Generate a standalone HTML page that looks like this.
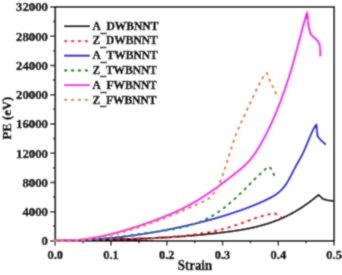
<!DOCTYPE html>
<html><head><meta charset="utf-8"><style>
html,body{margin:0;padding:0;background:#fff;width:342px;height:275px;overflow:hidden}
svg{display:block}

</style></head><body><div id="w">
<svg width="342" height="275" viewBox="0 0 342 275">
<defs><filter id="bl" x="0" y="0" width="342" height="275" filterUnits="userSpaceOnUse"><feConvolveMatrix order="3" kernelMatrix="0.02768 0.11101 0.02768 0.11101 0.44521 0.11101 0.02768 0.11101 0.02768" edgeMode="duplicate" preserveAlpha="true"/></filter></defs>
<g filter="url(#bl)">
<rect width="342" height="275" fill="#fff"/>
<rect x="55.20" y="6.95" width="278.90" height="234.00" fill="none" stroke="#1a1a1a" stroke-width="2"/>
<path d="M55.20,240.95V245.45 M83.09,240.95V243.15 M110.98,240.95V245.45 M138.87,240.95V243.15 M166.76,240.95V245.45 M194.65,240.95V243.15 M222.54,240.95V245.45 M250.43,240.95V243.15 M278.32,240.95V245.45 M306.21,240.95V243.15 M334.10,240.95V245.45 M55.20,240.95H50.20 M55.20,226.32H53.00 M55.20,211.70H50.20 M55.20,197.07H53.00 M55.20,182.45H50.20 M55.20,167.82H53.00 M55.20,153.20H50.20 M55.20,138.57H53.00 M55.20,123.95H50.20 M55.20,109.32H53.00 M55.20,94.70H50.20 M55.20,80.07H53.00 M55.20,65.45H50.20 M55.20,50.82H53.00 M55.20,36.20H50.20 M55.20,21.57H53.00 M55.20,6.95H50.20" stroke="#1a1a1a" stroke-width="1.5" fill="none"/>
<path d="M54.50,240.70 L55.00,240.88 L55.50,240.86 L56.00,240.85 L56.50,240.84 L57.00,240.82 L57.49,240.81 L57.99,240.80 L58.49,240.79 L58.99,240.77 L59.49,240.76 L59.99,240.75 L60.49,240.74 L60.99,240.73 L61.49,240.71 L61.99,240.70 L62.48,240.69 L62.98,240.68 L63.48,240.67 L63.98,240.65 L64.48,240.64 L64.98,240.63 L65.48,240.62 L65.98,240.61 L66.48,240.60 L66.98,240.59 L67.48,240.57 L67.97,240.56 L68.47,240.55 L68.97,240.54 L69.47,240.53 L69.97,240.52 L70.47,240.51 L70.97,240.49 L71.47,240.48 L71.97,240.47 L72.47,240.46 L72.97,240.45 L73.46,240.44 L73.96,240.43 L74.46,240.42 L74.96,240.41 L75.46,240.39 L75.96,240.38 L76.46,240.37 L76.96,240.36 L77.46,240.35 L77.96,240.34 L78.45,240.33 L78.95,240.32 L79.45,240.31 L79.95,240.30 L80.45,240.28 L80.95,240.27 L81.45,240.26 L81.95,240.25 L82.45,240.24 L82.95,240.23 L83.45,240.22 L83.94,240.21 L84.44,240.20 L84.94,240.19 L85.44,240.18 L85.94,240.16 L86.44,240.15 L86.94,240.14 L87.44,240.13 L87.94,240.12 L88.44,240.11 L88.93,240.10 L89.43,240.09 L89.93,240.08 L90.43,240.06 L90.93,240.05 L91.43,240.04 L91.93,240.03 L92.43,240.02 L92.93,240.01 L93.43,240.00 L93.93,239.99 L94.42,239.98 L94.92,239.96 L95.42,239.95 L95.92,239.94 L96.42,239.93 L96.92,239.92 L97.42,239.91 L97.92,239.89 L98.42,239.88 L98.92,239.87 L99.42,239.86 L99.91,239.85 L100.41,239.84 L100.91,239.82 L101.41,239.81 L101.91,239.80 L102.41,239.79 L102.91,239.78 L103.41,239.76 L103.91,239.75 L104.41,239.74 L104.90,239.73 L105.40,239.72 L105.90,239.70 L106.40,239.69 L106.90,239.68 L107.40,239.67 L107.90,239.65 L108.40,239.64 L108.90,239.63 L109.40,239.62 L109.90,239.60 L110.39,239.59 L110.89,239.58 L111.39,239.56 L111.89,239.55 L112.39,239.54 L112.89,239.52 L113.39,239.51 L113.89,239.50 L114.39,239.48 L114.89,239.47 L115.38,239.46 L115.88,239.44 L116.38,239.43 L116.88,239.41 L117.38,239.40 L117.88,239.39 L118.38,239.37 L118.88,239.36 L119.38,239.34 L119.88,239.33 L120.38,239.31 L120.87,239.30 L121.37,239.28 L121.87,239.27 L122.37,239.25 L122.87,239.24 L123.37,239.22 L123.87,239.21 L124.37,239.19 L124.87,239.18 L125.37,239.16 L125.87,239.15 L126.36,239.13 L126.86,239.11 L127.36,239.10 L127.86,239.08 L128.36,239.07 L128.86,239.05 L129.36,239.03 L129.86,239.02 L130.36,239.00 L130.86,238.98 L131.35,238.96 L131.85,238.95 L132.35,238.93 L132.85,238.91 L133.35,238.90 L133.85,238.88 L134.35,238.86 L134.85,238.84 L135.35,238.82 L135.85,238.81 L136.35,238.79 L136.84,238.77 L137.34,238.75 L137.84,238.73 L138.34,238.71 L138.84,238.69 L139.34,238.67 L139.84,238.65 L140.34,238.64 L140.84,238.62 L141.34,238.60 L141.83,238.58 L142.33,238.56 L142.83,238.54 L143.33,238.52 L143.83,238.49 L144.33,238.47 L144.83,238.45 L145.33,238.43 L145.83,238.41 L146.33,238.39 L146.83,238.37 L147.32,238.35 L147.82,238.32 L148.32,238.30 L148.82,238.28 L149.32,238.26 L149.82,238.24 L150.32,238.21 L150.82,238.19 L151.32,238.17 L151.82,238.14 L152.32,238.12 L152.81,238.10 L153.31,238.07 L153.81,238.05 L154.31,238.02 L154.81,238.00 L155.31,237.98 L155.81,237.95 L156.31,237.93 L156.81,237.90 L157.31,237.88 L157.80,237.85 L158.30,237.83 L158.80,237.80 L159.30,237.77 L159.80,237.75 L160.30,237.72 L160.80,237.69 L161.30,237.67 L161.80,237.64 L162.30,237.61 L162.80,237.59 L163.29,237.56 L163.79,237.53 L164.29,237.50 L164.79,237.47 L165.29,237.45 L165.79,237.42 L166.29,237.39 L166.79,237.36 L167.29,237.33 L167.79,237.30 L168.28,237.27 L168.78,237.24 L169.28,237.21 L169.78,237.18 L170.28,237.15 L170.78,237.12 L171.28,237.09 L171.78,237.06 L172.28,237.02 L172.78,236.99 L173.28,236.96 L173.77,236.93 L174.27,236.90 L174.77,236.86 L175.27,236.83 L175.77,236.80 L176.27,236.76 L176.77,236.73 L177.27,236.70 L177.77,236.66 L178.27,236.63 L178.77,236.59 L179.26,236.56 L179.76,236.52 L180.26,236.49 L180.76,236.45 L181.26,236.42 L181.76,236.38 L182.26,236.35 L182.76,236.31 L183.26,236.27 L183.76,236.23 L184.25,236.20 L184.75,236.16 L185.25,236.12 L185.75,236.08 L186.25,236.05 L186.75,236.01 L187.25,235.97 L187.75,235.93 L188.25,235.89 L188.75,235.85 L189.25,235.81 L189.74,235.77 L190.24,235.73 L190.74,235.69 L191.24,235.65 L191.74,235.61 L192.24,235.56 L192.74,235.52 L193.24,235.48 L193.74,235.44 L194.24,235.39 L194.73,235.35 L195.23,235.31 L195.73,235.26 L196.23,235.22 L196.73,235.18 L197.23,235.13 L197.73,235.09 L198.23,235.04 L198.73,235.00 L199.23,234.95 L199.73,234.91 L200.22,234.86 L200.72,234.81 L201.22,234.77 L201.72,234.72 L202.22,234.67 L202.72,234.62 L203.22,234.58 L203.72,234.53 L204.22,234.48 L204.72,234.43 L205.22,234.38 L205.71,234.33 L206.21,234.28 L206.71,234.23 L207.21,234.18 L207.71,234.13 L208.21,234.08 L208.71,234.03 L209.21,233.97 L209.71,233.92 L210.21,233.87 L210.70,233.82 L211.20,233.76 L211.70,233.71 L212.20,233.66 L212.70,233.60 L213.20,233.55 L213.70,233.49 L214.20,233.44 L214.70,233.38 L215.20,233.33 L215.70,233.27 L216.19,233.21 L216.69,233.16 L217.19,233.10 L217.69,233.04 L218.19,232.99 L218.69,232.93 L219.19,232.87 L219.69,232.81 L220.19,232.75 L220.69,232.69 L221.18,232.63 L221.68,232.57 L222.18,232.51 L222.68,232.45 L223.18,232.39 L223.68,232.33 L224.18,232.27 L224.68,232.20 L225.18,232.14 L225.68,232.08 L226.18,232.01 L226.67,231.95 L227.17,231.89 L227.67,231.82 L228.17,231.76 L228.67,231.69 L229.17,231.62 L229.67,231.56 L230.17,231.49 L230.67,231.42 L231.17,231.35 L231.67,231.28 L232.16,231.21 L232.66,231.14 L233.16,231.07 L233.66,231.00 L234.16,230.93 L234.66,230.86 L235.16,230.78 L235.66,230.71 L236.16,230.63 L236.66,230.56 L237.15,230.48 L237.65,230.41 L238.15,230.33 L238.65,230.25 L239.15,230.17 L239.65,230.09 L240.15,230.01 L240.65,229.92 L241.15,229.84 L241.65,229.76 L242.15,229.67 L242.64,229.58 L243.14,229.50 L243.64,229.41 L244.14,229.32 L244.64,229.23 L245.14,229.14 L245.64,229.05 L246.14,228.95 L246.64,228.86 L247.14,228.76 L247.63,228.67 L248.13,228.57 L248.63,228.47 L249.13,228.37 L249.63,228.27 L250.13,228.16 L250.63,228.06 L251.13,227.95 L251.63,227.85 L252.13,227.74 L252.63,227.63 L253.12,227.52 L253.62,227.41 L254.12,227.29 L254.62,227.18 L255.12,227.06 L255.62,226.94 L256.12,226.82 L256.62,226.70 L257.12,226.58 L257.62,226.46 L258.12,226.33 L258.61,226.20 L259.11,226.08 L259.61,225.95 L260.11,225.81 L260.61,225.68 L261.11,225.55 L261.61,225.41 L262.11,225.27 L262.61,225.13 L263.11,224.99 L263.60,224.85 L264.10,224.70 L264.60,224.56 L265.10,224.41 L265.60,224.26 L266.10,224.11 L266.60,223.95 L267.10,223.80 L267.60,223.64 L268.10,223.48 L268.60,223.32 L269.09,223.15 L269.59,222.99 L270.09,222.82 L270.59,222.65 L271.09,222.48 L271.59,222.31 L272.09,222.13 L272.59,221.95 L273.09,221.78 L273.59,221.59 L274.08,221.41 L274.58,221.22 L275.08,221.04 L275.58,220.85 L276.08,220.66 L276.58,220.46 L277.08,220.26 L277.58,220.07 L278.08,219.86 L278.58,219.66 L279.08,219.46 L279.57,219.25 L280.07,219.04 L280.57,218.83 L281.07,218.61 L281.57,218.39 L282.07,218.17 L282.57,217.95 L283.07,217.73 L283.57,217.50 L284.07,217.27 L284.57,217.04 L285.06,216.81 L285.56,216.57 L286.06,216.33 L286.56,216.09 L287.06,215.84 L287.56,215.60 L288.06,215.35 L288.56,215.10 L289.06,214.84 L289.56,214.58 L290.05,214.32 L290.55,214.06 L291.05,213.80 L291.55,213.53 L292.05,213.26 L292.55,212.98 L293.05,212.71 L293.55,212.43 L294.05,212.15 L294.55,211.86 L295.05,211.58 L295.54,211.29 L296.04,210.99 L296.54,210.70 L297.04,210.40 L297.54,210.10 L298.04,209.80 L298.54,209.49 L299.04,209.18 L299.54,208.87 L300.04,208.55 L300.53,208.24 L301.03,207.92 L301.53,207.59 L302.03,207.27 L302.53,206.94 L303.03,206.61 L303.53,206.27 L304.03,205.93 L304.53,205.59 L305.03,205.25 L305.53,204.91 L306.02,204.56 L306.52,204.21 L307.02,203.85 L307.52,203.49 L308.02,203.13 L308.52,202.77 L309.02,202.40 L309.52,202.04 L310.02,201.66 L310.52,201.29 L311.02,200.91 L311.51,200.53 L312.01,200.15 L312.51,199.76 L313.01,199.37 L313.51,198.98 L314.01,198.58 L314.51,198.19 L315.01,197.78 L315.51,197.38 L316.01,196.97 L316.50,196.56 L317.00,196.15 L317.50,195.73 L318.00,195.32 L318.50,194.89 L319.00,195.30 L322.90,198.90 L327.50,200.20 L333.20,201.00" fill="none" stroke="#111" stroke-width="2.10" stroke-linejoin="round"/>
<path d="M54.50,240.70 L55.00,240.98 L55.50,240.96 L56.00,240.93 L56.50,240.90 L57.00,240.87 L57.50,240.85 L58.00,240.82 L58.50,240.80 L59.00,240.77 L59.50,240.74 L60.00,240.72 L60.49,240.70 L60.99,240.67 L61.49,240.65 L61.99,240.62 L62.49,240.60 L62.99,240.58 L63.49,240.56 L63.99,240.53 L64.49,240.51 L64.99,240.49 L65.49,240.47 L65.99,240.45 L66.49,240.43 L66.99,240.41 L67.49,240.39 L67.99,240.37 L68.49,240.35 L68.99,240.33 L69.49,240.31 L69.99,240.29 L70.49,240.28 L70.99,240.26 L71.48,240.24 L71.98,240.22 L72.48,240.21 L72.98,240.19 L73.48,240.17 L73.98,240.16 L74.48,240.14 L74.98,240.12 L75.48,240.11 L75.98,240.09 L76.48,240.08 L76.98,240.06 L77.48,240.05 L77.98,240.03 L78.48,240.02 L78.98,240.01 L79.48,239.99 L79.98,239.98 L80.48,239.97 L80.98,239.95 L81.48,239.94 L81.98,239.93 L82.47,239.91 L82.97,239.90 L83.47,239.89 L83.97,239.88 L84.47,239.86 L84.97,239.85 L85.47,239.84 L85.97,239.83 L86.47,239.82 L86.97,239.81 L87.47,239.80 L87.97,239.79 L88.47,239.77 L88.97,239.76 L89.47,239.75 L89.97,239.74 L90.47,239.73 L90.97,239.72 L91.47,239.71 L91.97,239.70 L92.47,239.69 L92.97,239.68 L93.46,239.67 L93.96,239.66 L94.46,239.65 L94.96,239.65 L95.46,239.64 L95.96,239.63 L96.46,239.62 L96.96,239.61 L97.46,239.60 L97.96,239.59 L98.46,239.58 L98.96,239.57 L99.46,239.56 L99.96,239.56 L100.46,239.55 L100.96,239.54 L101.46,239.53 L101.96,239.52 L102.46,239.51 L102.96,239.50 L103.46,239.50 L103.96,239.49 L104.45,239.48 L104.95,239.47 L105.45,239.46 L105.95,239.45 L106.45,239.45 L106.95,239.44 L107.45,239.43 L107.95,239.42 L108.45,239.41 L108.95,239.40 L109.45,239.40 L109.95,239.39 L110.45,239.38 L110.95,239.37 L111.45,239.36 L111.95,239.35 L112.45,239.34 L112.95,239.34 L113.45,239.33 L113.95,239.32 L114.45,239.31 L114.95,239.30 L115.44,239.29 L115.94,239.28 L116.44,239.27 L116.94,239.26 L117.44,239.25 L117.94,239.24 L118.44,239.23 L118.94,239.22 L119.44,239.22 L119.94,239.21 L120.44,239.20 L120.94,239.19 L121.44,239.18 L121.94,239.16 L122.44,239.15 L122.94,239.14 L123.44,239.13 L123.94,239.12 L124.44,239.11 L124.94,239.10 L125.44,239.09 L125.94,239.08 L126.43,239.07 L126.93,239.05 L127.43,239.04 L127.93,239.03 L128.43,239.02 L128.93,239.01 L129.43,238.99 L129.93,238.98 L130.43,238.97 L130.93,238.95 L131.43,238.94 L131.93,238.93 L132.43,238.91 L132.93,238.90 L133.43,238.89 L133.93,238.87 L134.43,238.86 L134.93,238.84 L135.43,238.83 L135.93,238.81 L136.43,238.80 L136.93,238.78 L137.42,238.77 L137.92,238.75 L138.42,238.73 L138.92,238.72 L139.42,238.70 L139.92,238.68 L140.42,238.67 L140.92,238.65 L141.42,238.63 L141.92,238.61 L142.42,238.59 L142.92,238.57 L143.42,238.56 L143.92,238.54 L144.42,238.52 L144.92,238.50 L145.42,238.48 L145.92,238.46 L146.42,238.43 L146.92,238.41 L147.42,238.39 L147.92,238.37 L148.41,238.35 L148.91,238.33 L149.41,238.30 L149.91,238.28 L150.41,238.26 L150.91,238.23 L151.41,238.21 L151.91,238.18 L152.41,238.16 L152.91,238.13 L153.41,238.11 L153.91,238.08 L154.41,238.06 L154.91,238.03 L155.41,238.00 L155.91,237.98 L156.41,237.95 L156.91,237.92 L157.41,237.89 L157.91,237.86 L158.41,237.83 L158.91,237.80 L159.40,237.77 L159.90,237.74 L160.40,237.71 L160.90,237.68 L161.40,237.65 L161.90,237.62 L162.40,237.58 L162.90,237.55 L163.40,237.52 L163.90,237.48 L164.40,237.45 L164.90,237.41 L165.40,237.38 L165.90,237.34 L166.40,237.31 L166.90,237.27 L167.40,237.23 L167.90,237.19 L168.40,237.16 L168.90,237.12 L169.40,237.08 L169.90,237.04 L170.39,237.00 L170.89,236.96 L171.39,236.92 L171.89,236.88 L172.39,236.83 L172.89,236.79 L173.39,236.75 L173.89,236.70 L174.39,236.66 L174.89,236.62 L175.39,236.57 L175.89,236.53 L176.39,236.48 L176.89,236.43 L177.39,236.38 L177.89,236.34 L178.39,236.29 L178.89,236.24 L179.39,236.19 L179.89,236.14 L180.39,236.09 L180.89,236.04 L181.38,235.99 L181.88,235.93 L182.38,235.88 L182.88,235.83 L183.38,235.77 L183.88,235.72 L184.38,235.66 L184.88,235.61 L185.38,235.55 L185.88,235.49 L186.38,235.44 L186.88,235.38 L187.38,235.32 L187.88,235.26 L188.38,235.20 L188.88,235.14 L189.38,235.08 L189.88,235.01 L190.38,234.95 L190.88,234.89 L191.38,234.82 L191.88,234.76 L192.37,234.69 L192.87,234.63 L193.37,234.56 L193.87,234.49 L194.37,234.42 L194.87,234.36 L195.37,234.29 L195.87,234.22 L196.37,234.14 L196.87,234.07 L197.37,234.00 L197.87,233.93 L198.37,233.85 L198.87,233.78 L199.37,233.71 L199.87,233.63 L200.37,233.55 L200.87,233.48 L201.37,233.40 L201.87,233.32 L202.37,233.24 L202.87,233.16 L203.36,233.08 L203.86,233.00 L204.36,232.91 L204.86,232.83 L205.36,232.74 L205.86,232.66 L206.36,232.57 L206.86,232.48 L207.36,232.40 L207.86,232.31 L208.36,232.22 L208.86,232.12 L209.36,232.03 L209.86,231.94 L210.36,231.84 L210.86,231.75 L211.36,231.65 L211.86,231.55 L212.36,231.45 L212.86,231.35 L213.36,231.25 L213.86,231.15 L214.35,231.04 L214.85,230.94 L215.35,230.83 L215.85,230.72 L216.35,230.61 L216.85,230.50 L217.35,230.39 L217.85,230.28 L218.35,230.16 L218.85,230.05 L219.35,229.93 L219.85,229.81 L220.35,229.69 L220.85,229.57 L221.35,229.44 L221.85,229.32 L222.35,229.19 L222.85,229.06 L223.35,228.94 L223.85,228.80 L224.35,228.67 L224.85,228.54 L225.34,228.40 L225.84,228.26 L226.34,228.12 L226.84,227.98 L227.34,227.84 L227.84,227.69 L228.34,227.55 L228.84,227.40 L229.34,227.25 L229.84,227.10 L230.34,226.94 L230.84,226.79 L231.34,226.63 L231.84,226.47 L232.34,226.31 L232.84,226.15 L233.34,225.99 L233.84,225.83 L234.34,225.66 L234.84,225.50 L235.34,225.33 L235.84,225.16 L236.33,224.99 L236.83,224.82 L237.33,224.65 L237.83,224.47 L238.33,224.30 L238.83,224.12 L239.33,223.95 L239.83,223.77 L240.33,223.59 L240.83,223.42 L241.33,223.24 L241.83,223.06 L242.33,222.88 L242.83,222.70 L243.33,222.51 L243.83,222.33 L244.33,222.15 L244.83,221.97 L245.33,221.79 L245.83,221.60 L246.33,221.42 L246.83,221.24 L247.32,221.06 L247.82,220.88 L248.32,220.69 L248.82,220.51 L249.32,220.33 L249.82,220.15 L250.32,219.97 L250.82,219.79 L251.32,219.61 L251.82,219.43 L252.32,219.25 L252.82,219.08 L253.32,218.90 L253.82,218.73 L254.32,218.55 L254.82,218.38 L255.32,218.21 L255.82,218.04 L256.32,217.87 L256.82,217.71 L257.32,217.54 L257.82,217.38 L258.31,217.21 L258.81,217.05 L259.31,216.89 L259.81,216.74 L260.31,216.58 L260.81,216.43 L261.31,216.28 L261.81,216.13 L262.31,215.98 L262.81,215.84 L263.31,215.70 L263.81,215.56 L264.31,215.42 L264.81,215.29 L265.31,215.15 L265.81,215.02 L266.31,214.90 L266.81,214.77 L267.31,214.65 L267.81,214.54 L268.31,214.42 L268.81,214.31 L269.30,214.20 L269.80,214.10 L270.30,214.00 L270.80,213.90 L271.30,213.80 L271.80,213.71 L272.30,213.62 L272.80,213.54 L273.30,213.46 L273.80,213.38 L274.30,213.31 L274.80,213.30 L281.20,217.20" fill="none" stroke="#ff1010" stroke-width="2.30" stroke-linejoin="round" stroke-dasharray="1.4 5.6" stroke-linecap="round"/>
<path d="M54.50,240.70 L55.00,240.74 L55.50,240.74 L56.00,240.74 L56.50,240.74 L57.00,240.74 L57.50,240.73 L58.00,240.73 L58.50,240.73 L59.00,240.73 L59.50,240.72 L60.00,240.72 L60.50,240.72 L61.00,240.71 L61.50,240.71 L62.00,240.70 L62.50,240.70 L63.00,240.69 L63.50,240.68 L64.00,240.68 L64.50,240.67 L65.00,240.66 L65.50,240.65 L66.00,240.64 L66.50,240.63 L67.00,240.62 L67.50,240.61 L67.99,240.60 L68.49,240.59 L68.99,240.58 L69.49,240.57 L69.99,240.56 L70.49,240.54 L70.99,240.53 L71.49,240.52 L71.99,240.50 L72.49,240.49 L72.99,240.47 L73.49,240.46 L73.99,240.44 L74.49,240.42 L74.99,240.41 L75.49,240.39 L75.99,240.37 L76.49,240.35 L76.99,240.34 L77.49,240.32 L77.99,240.30 L78.49,240.28 L78.99,240.26 L79.49,240.24 L79.99,240.21 L80.49,240.19 L80.99,240.17 L81.49,240.15 L81.99,240.12 L82.49,240.10 L82.99,240.08 L83.49,240.05 L83.99,240.03 L84.49,240.00 L84.99,239.98 L85.49,239.95 L85.99,239.92 L86.49,239.90 L86.99,239.87 L87.49,239.84 L87.99,239.81 L88.49,239.78 L88.99,239.75 L89.49,239.72 L89.99,239.69 L90.49,239.66 L90.99,239.63 L91.49,239.60 L91.99,239.57 L92.49,239.54 L92.99,239.50 L93.49,239.47 L93.98,239.44 L94.48,239.40 L94.98,239.37 L95.48,239.33 L95.98,239.30 L96.48,239.26 L96.98,239.22 L97.48,239.19 L97.98,239.15 L98.48,239.11 L98.98,239.07 L99.48,239.04 L99.98,239.00 L100.48,238.96 L100.98,238.92 L101.48,238.88 L101.98,238.84 L102.48,238.79 L102.98,238.75 L103.48,238.71 L103.98,238.67 L104.48,238.62 L104.98,238.58 L105.48,238.54 L105.98,238.49 L106.48,238.45 L106.98,238.40 L107.48,238.36 L107.98,238.31 L108.48,238.26 L108.98,238.22 L109.48,238.17 L109.98,238.12 L110.48,238.07 L110.98,238.03 L111.48,237.98 L111.98,237.93 L112.48,237.88 L112.98,237.83 L113.48,237.77 L113.98,237.72 L114.48,237.67 L114.98,237.62 L115.48,237.57 L115.98,237.51 L116.48,237.46 L116.98,237.41 L117.48,237.35 L117.98,237.30 L118.48,237.24 L118.98,237.19 L119.48,237.13 L119.97,237.07 L120.47,237.02 L120.97,236.96 L121.47,236.90 L121.97,236.84 L122.47,236.78 L122.97,236.72 L123.47,236.66 L123.97,236.60 L124.47,236.54 L124.97,236.48 L125.47,236.42 L125.97,236.36 L126.47,236.30 L126.97,236.23 L127.47,236.17 L127.97,236.11 L128.47,236.04 L128.97,235.98 L129.47,235.91 L129.97,235.85 L130.47,235.78 L130.97,235.72 L131.47,235.65 L131.97,235.58 L132.47,235.51 L132.97,235.45 L133.47,235.38 L133.97,235.31 L134.47,235.24 L134.97,235.17 L135.47,235.10 L135.97,235.03 L136.47,234.96 L136.97,234.89 L137.47,234.81 L137.97,234.74 L138.47,234.67 L138.97,234.60 L139.47,234.52 L139.97,234.45 L140.47,234.37 L140.97,234.30 L141.47,234.22 L141.97,234.15 L142.47,234.07 L142.97,233.99 L143.47,233.92 L143.97,233.84 L144.47,233.76 L144.97,233.68 L145.47,233.60 L145.97,233.52 L146.46,233.45 L146.96,233.36 L147.46,233.28 L147.96,233.20 L148.46,233.12 L148.96,233.04 L149.46,232.96 L149.96,232.87 L150.46,232.79 L150.96,232.71 L151.46,232.62 L151.96,232.54 L152.46,232.45 L152.96,232.37 L153.46,232.28 L153.96,232.20 L154.46,232.11 L154.96,232.02 L155.46,231.94 L155.96,231.85 L156.46,231.76 L156.96,231.67 L157.46,231.58 L157.96,231.49 L158.46,231.40 L158.96,231.31 L159.46,231.22 L159.96,231.13 L160.46,231.04 L160.96,230.94 L161.46,230.85 L161.96,230.76 L162.46,230.66 L162.96,230.57 L163.46,230.48 L163.96,230.38 L164.46,230.29 L164.96,230.19 L165.46,230.09 L165.96,230.00 L166.46,229.90 L166.96,229.80 L167.46,229.71 L167.96,229.61 L168.46,229.51 L168.96,229.41 L169.46,229.31 L169.96,229.21 L170.46,229.11 L170.96,229.01 L171.46,228.91 L171.96,228.80 L172.45,228.70 L172.95,228.60 L173.45,228.50 L173.95,228.39 L174.45,228.29 L174.95,228.19 L175.45,228.08 L175.95,227.98 L176.45,227.87 L176.95,227.76 L177.45,227.66 L177.95,227.55 L178.45,227.44 L178.95,227.34 L179.45,227.23 L179.95,227.12 L180.45,227.01 L180.95,226.90 L181.45,226.79 L181.95,226.68 L182.45,226.57 L182.95,226.46 L183.45,226.35 L183.95,226.23 L184.45,226.12 L184.95,226.01 L185.45,225.90 L185.95,225.78 L186.45,225.67 L186.95,225.55 L187.45,225.44 L187.95,225.32 L188.45,225.21 L188.95,225.09 L189.45,224.97 L189.95,224.86 L190.45,224.74 L190.95,224.62 L191.45,224.50 L191.95,224.38 L192.45,224.26 L192.95,224.14 L193.45,224.02 L193.95,223.90 L194.45,223.78 L194.95,223.66 L195.45,223.54 L195.95,223.42 L196.45,223.29 L196.95,223.17 L197.45,223.05 L197.95,222.92 L198.45,222.80 L198.94,222.67 L199.44,222.55 L199.94,222.42 L200.44,222.30 L200.94,222.17 L201.44,222.04 L201.94,221.92 L202.44,221.79 L202.94,221.66 L203.44,221.53 L203.94,221.40 L204.44,221.27 L204.94,221.14 L205.44,221.01 L205.94,220.88 L206.44,220.75 L206.94,220.62 L207.44,220.48 L207.94,220.35 L208.44,220.22 L208.94,220.08 L209.44,219.95 L209.94,219.81 L210.44,219.68 L210.94,219.54 L211.44,219.41 L211.94,219.27 L212.44,219.13 L212.94,218.99 L213.44,218.85 L213.94,218.71 L214.44,218.57 L214.94,218.43 L215.44,218.29 L215.94,218.15 L216.44,218.01 L216.94,217.86 L217.44,217.72 L217.94,217.58 L218.44,217.43 L218.94,217.29 L219.44,217.14 L219.94,216.99 L220.44,216.85 L220.94,216.70 L221.44,216.55 L221.94,216.40 L222.44,216.25 L222.94,216.10 L223.44,215.95 L223.94,215.80 L224.44,215.64 L224.93,215.49 L225.43,215.34 L225.93,215.18 L226.43,215.03 L226.93,214.87 L227.43,214.71 L227.93,214.56 L228.43,214.40 L228.93,214.24 L229.43,214.08 L229.93,213.92 L230.43,213.76 L230.93,213.60 L231.43,213.43 L231.93,213.27 L232.43,213.11 L232.93,212.94 L233.43,212.78 L233.93,212.61 L234.43,212.44 L234.93,212.28 L235.43,212.11 L235.93,211.94 L236.43,211.77 L236.93,211.60 L237.43,211.42 L237.93,211.25 L238.43,211.08 L238.93,210.90 L239.43,210.73 L239.93,210.55 L240.43,210.38 L240.93,210.20 L241.43,210.02 L241.93,209.84 L242.43,209.66 L242.93,209.48 L243.43,209.30 L243.93,209.11 L244.43,208.93 L244.93,208.75 L245.43,208.56 L245.93,208.37 L246.43,208.19 L246.93,208.00 L247.43,207.81 L247.93,207.62 L248.43,207.43 L248.93,207.24 L249.43,207.04 L249.93,206.85 L250.43,206.66 L250.92,206.46 L251.42,206.26 L251.92,206.07 L252.42,205.87 L252.92,205.67 L253.42,205.47 L253.92,205.27 L254.42,205.06 L254.92,204.86 L255.42,204.66 L255.92,204.45 L256.42,204.25 L256.92,204.04 L257.42,203.83 L257.92,203.62 L258.42,203.41 L258.92,203.19 L259.42,202.98 L259.92,202.76 L260.42,202.55 L260.92,202.33 L261.42,202.11 L261.92,201.88 L262.42,201.66 L262.92,201.43 L263.42,201.21 L263.92,200.98 L264.42,200.74 L264.92,200.51 L265.42,200.27 L265.92,200.04 L266.42,199.80 L266.92,199.55 L267.42,199.31 L267.92,199.06 L268.42,198.81 L268.92,198.56 L269.42,198.30 L269.92,198.04 L270.42,197.78 L270.92,197.52 L271.42,197.25 L271.92,196.98 L272.42,196.70 L272.92,196.41 L273.42,196.12 L273.92,195.82 L274.42,195.51 L274.92,195.20 L275.42,194.87 L275.92,194.53 L276.42,194.18 L276.92,193.81 L277.41,193.44 L277.91,193.05 L278.41,192.64 L278.91,192.22 L279.41,191.79 L279.91,191.33 L280.41,190.86 L280.91,190.37 L281.41,189.87 L281.91,189.34 L282.41,188.79 L282.91,188.22 L283.41,187.63 L283.91,187.01 L284.41,186.37 L284.91,185.71 L285.41,185.02 L285.91,184.31 L286.41,183.57 L286.91,182.80 L287.41,182.00 L287.91,181.17 L288.41,180.32 L288.91,179.44 L289.41,178.54 L289.91,177.62 L290.41,176.68 L290.91,175.73 L291.41,174.76 L291.91,173.79 L292.41,172.81 L292.91,171.83 L293.41,170.85 L293.91,169.87 L294.41,168.89 L294.91,167.93 L295.41,166.97 L295.91,166.03 L296.41,165.10 L296.91,164.20 L297.41,163.31 L297.91,162.42 L298.41,161.55 L298.91,160.67 L299.41,159.80 L299.91,158.91 L300.41,158.02 L300.91,157.11 L301.41,156.18 L301.91,155.22 L302.41,154.24 L302.91,153.22 L303.40,152.17 L303.90,151.08 L304.40,149.97 L304.90,148.82 L305.40,147.66 L305.90,146.48 L306.40,145.28 L306.90,144.08 L307.40,142.87 L307.90,141.66 L308.40,140.44 L308.90,139.24 L309.40,138.04 L309.90,136.86 L310.40,135.69 L310.90,134.55 L311.40,133.43 L311.90,132.34 L312.40,131.28 L312.90,130.27 L313.40,129.29 L313.90,128.35 L314.40,127.47 L314.90,126.63 L315.40,125.86 L315.90,125.14 L316.40,124.50 L317.50,136.10 L320.40,139.70 L325.90,144.80" fill="none" stroke="#2020ff" stroke-width="2.10" stroke-linejoin="round"/>
<path d="M54.50,240.70 L55.00,240.52 L55.50,240.56 L56.00,240.59 L56.50,240.63 L56.99,240.66 L57.49,240.69 L57.99,240.71 L58.49,240.74 L58.99,240.77 L59.49,240.79 L59.99,240.81 L60.49,240.83 L60.98,240.85 L61.48,240.87 L61.98,240.89 L62.48,240.91 L62.98,240.92 L63.48,240.94 L63.98,240.95 L64.48,240.96 L64.98,240.97 L65.47,240.98 L65.97,240.99 L66.47,240.99 L66.97,241.00 L67.47,241.00 L67.97,241.00 L68.47,241.01 L68.97,241.01 L69.47,241.01 L69.96,241.00 L70.46,241.00 L70.96,241.00 L71.46,240.99 L71.96,240.98 L72.46,240.98 L72.96,240.97 L73.46,240.96 L73.95,240.95 L74.45,240.94 L74.95,240.92 L75.45,240.91 L75.95,240.89 L76.45,240.88 L76.95,240.86 L77.45,240.84 L77.95,240.83 L78.44,240.81 L78.94,240.78 L79.44,240.76 L79.94,240.74 L80.44,240.72 L80.94,240.69 L81.44,240.67 L81.94,240.64 L82.43,240.61 L82.93,240.58 L83.43,240.55 L83.93,240.52 L84.43,240.49 L84.93,240.46 L85.43,240.43 L85.93,240.39 L86.43,240.36 L86.92,240.33 L87.42,240.29 L87.92,240.25 L88.42,240.21 L88.92,240.18 L89.42,240.14 L89.92,240.10 L90.42,240.06 L90.92,240.02 L91.41,239.97 L91.91,239.93 L92.41,239.89 L92.91,239.84 L93.41,239.80 L93.91,239.75 L94.41,239.70 L94.91,239.66 L95.40,239.61 L95.90,239.56 L96.40,239.51 L96.90,239.46 L97.40,239.41 L97.90,239.36 L98.40,239.31 L98.90,239.26 L99.40,239.20 L99.89,239.15 L100.39,239.10 L100.89,239.04 L101.39,238.99 L101.89,238.93 L102.39,238.88 L102.89,238.82 L103.39,238.76 L103.88,238.70 L104.38,238.65 L104.88,238.59 L105.38,238.53 L105.88,238.47 L106.38,238.41 L106.88,238.35 L107.38,238.29 L107.88,238.22 L108.37,238.16 L108.87,238.10 L109.37,238.04 L109.87,237.97 L110.37,237.91 L110.87,237.85 L111.37,237.78 L111.87,237.72 L112.37,237.65 L112.86,237.59 L113.36,237.52 L113.86,237.46 L114.36,237.39 L114.86,237.32 L115.36,237.26 L115.86,237.19 L116.36,237.12 L116.85,237.05 L117.35,236.99 L117.85,236.92 L118.35,236.85 L118.85,236.78 L119.35,236.71 L119.85,236.64 L120.35,236.57 L120.85,236.50 L121.34,236.43 L121.84,236.36 L122.34,236.29 L122.84,236.22 L123.34,236.15 L123.84,236.08 L124.34,236.01 L124.84,235.94 L125.33,235.87 L125.83,235.80 L126.33,235.73 L126.83,235.66 L127.33,235.59 L127.83,235.52 L128.33,235.44 L128.83,235.37 L129.33,235.30 L129.82,235.23 L130.32,235.16 L130.82,235.09 L131.32,235.02 L131.82,234.94 L132.32,234.87 L132.82,234.80 L133.32,234.73 L133.82,234.66 L134.31,234.59 L134.81,234.52 L135.31,234.45 L135.81,234.37 L136.31,234.30 L136.81,234.23 L137.31,234.16 L137.81,234.09 L138.30,234.02 L138.80,233.95 L139.30,233.88 L139.80,233.81 L140.30,233.74 L140.80,233.67 L141.30,233.60 L141.80,233.53 L142.30,233.46 L142.79,233.40 L143.29,233.33 L143.79,233.26 L144.29,233.19 L144.79,233.12 L145.29,233.06 L145.79,232.99 L146.29,232.92 L146.78,232.85 L147.28,232.79 L147.78,232.72 L148.28,232.66 L148.78,232.59 L149.28,232.53 L149.78,232.46 L150.28,232.40 L150.78,232.33 L151.27,232.27 L151.77,232.21 L152.27,232.14 L152.77,232.08 L153.27,232.02 L153.77,231.95 L154.27,231.89 L154.77,231.83 L155.27,231.77 L155.76,231.70 L156.26,231.64 L156.76,231.58 L157.26,231.51 L157.76,231.45 L158.26,231.39 L158.76,231.33 L159.26,231.26 L159.75,231.20 L160.25,231.13 L160.75,231.07 L161.25,231.00 L161.75,230.94 L162.25,230.87 L162.75,230.81 L163.25,230.74 L163.75,230.67 L164.24,230.60 L164.74,230.54 L165.24,230.47 L165.74,230.40 L166.24,230.33 L166.74,230.25 L167.24,230.18 L167.74,230.11 L168.23,230.03 L168.73,229.96 L169.23,229.88 L169.73,229.81 L170.23,229.73 L170.73,229.65 L171.23,229.57 L171.73,229.49 L172.23,229.40 L172.72,229.32 L173.22,229.24 L173.72,229.15 L174.22,229.06 L174.72,228.97 L175.22,228.88 L175.72,228.79 L176.22,228.70 L176.72,228.60 L177.21,228.51 L177.71,228.41 L178.21,228.31 L178.71,228.21 L179.21,228.11 L179.71,228.00 L180.21,227.90 L180.71,227.79 L181.20,227.68 L181.70,227.57 L182.20,227.46 L182.70,227.34 L183.20,227.22 L183.70,227.10 L184.20,226.98 L184.70,226.86 L185.20,226.74 L185.69,226.61 L186.19,226.48 L186.69,226.35 L187.19,226.21 L187.69,226.08 L188.19,225.94 L188.69,225.80 L189.19,225.66 L189.68,225.51 L190.18,225.36 L190.68,225.21 L191.18,225.06 L191.68,224.90 L192.18,224.75 L192.68,224.59 L193.18,224.42 L193.68,224.26 L194.17,224.09 L194.67,223.92 L195.17,223.74 L195.67,223.57 L196.17,223.39 L196.67,223.20 L197.17,223.02 L197.67,222.83 L198.17,222.64 L198.66,222.44 L199.16,222.25 L199.66,222.05 L200.16,221.84 L200.66,221.64 L201.16,221.43 L201.66,221.21 L202.16,221.00 L202.65,220.78 L203.15,220.55 L203.65,220.33 L204.15,220.10 L204.65,219.86 L205.15,219.63 L205.65,219.38 L206.15,219.14 L206.65,218.89 L207.14,218.64 L207.64,218.39 L208.14,218.13 L208.64,217.87 L209.14,217.60 L209.64,217.33 L210.14,217.06 L210.64,216.78 L211.13,216.50 L211.63,216.21 L212.13,215.92 L212.63,215.63 L213.13,215.33 L213.63,215.03 L214.13,214.73 L214.63,214.42 L215.13,214.10 L215.62,213.78 L216.12,213.46 L216.62,213.14 L217.12,212.81 L217.62,212.48 L218.12,212.14 L218.62,211.80 L219.12,211.45 L219.62,211.10 L220.11,210.75 L220.61,210.40 L221.11,210.04 L221.61,209.67 L222.11,209.31 L222.61,208.94 L223.11,208.56 L223.61,208.19 L224.10,207.80 L224.60,207.42 L225.10,207.03 L225.60,206.64 L226.10,206.25 L226.60,205.85 L227.10,205.45 L227.60,205.04 L228.10,204.63 L228.59,204.22 L229.09,203.81 L229.59,203.39 L230.09,202.97 L230.59,202.54 L231.09,202.12 L231.59,201.68 L232.09,201.25 L232.58,200.81 L233.08,200.37 L233.58,199.93 L234.08,199.49 L234.58,199.04 L235.08,198.59 L235.58,198.13 L236.08,197.67 L236.58,197.21 L237.07,196.75 L237.57,196.28 L238.07,195.81 L238.57,195.34 L239.07,194.87 L239.57,194.39 L240.07,193.91 L240.57,193.43 L241.07,192.94 L241.56,192.46 L242.06,191.97 L242.56,191.48 L243.06,190.98 L243.56,190.49 L244.06,189.99 L244.56,189.49 L245.06,188.99 L245.55,188.49 L246.05,187.98 L246.55,187.48 L247.05,186.98 L247.55,186.47 L248.05,185.96 L248.55,185.46 L249.05,184.95 L249.55,184.44 L250.04,183.94 L250.54,183.43 L251.04,182.92 L251.54,182.42 L252.04,181.91 L252.54,181.41 L253.04,180.91 L253.54,180.40 L254.03,179.90 L254.53,179.40 L255.03,178.90 L255.53,178.41 L256.03,177.91 L256.53,177.42 L257.03,176.93 L257.53,176.44 L258.03,175.95 L258.52,175.47 L259.02,174.99 L259.52,174.51 L260.02,174.04 L260.52,173.56 L261.02,173.10 L261.52,172.63 L262.02,172.17 L262.52,171.71 L263.01,171.26 L263.51,170.81 L264.01,170.36 L264.51,169.92 L265.01,169.48 L265.51,169.05 L266.01,168.62 L266.51,168.20 L267.00,167.78 L267.50,167.37 L268.00,166.96 L268.50,166.56 L269.00,166.80 L271.20,168.80 L274.30,175.50" fill="none" stroke="#109a10" stroke-width="2.30" stroke-linejoin="round" stroke-dasharray="1.4 5.6" stroke-linecap="round"/>
<path d="M54.50,240.70 L55.00,240.68 L55.50,240.70 L56.00,240.72 L56.50,240.73 L57.00,240.74 L57.50,240.75 L57.99,240.76 L58.49,240.77 L58.99,240.78 L59.49,240.78 L59.99,240.79 L60.49,240.79 L60.99,240.79 L61.49,240.79 L61.99,240.78 L62.49,240.78 L62.99,240.77 L63.49,240.77 L63.98,240.76 L64.48,240.75 L64.98,240.74 L65.48,240.72 L65.98,240.71 L66.48,240.69 L66.98,240.67 L67.48,240.65 L67.98,240.63 L68.48,240.61 L68.98,240.59 L69.48,240.56 L69.98,240.54 L70.47,240.51 L70.97,240.48 L71.47,240.45 L71.97,240.42 L72.47,240.39 L72.97,240.35 L73.47,240.32 L73.97,240.28 L74.47,240.24 L74.97,240.20 L75.47,240.16 L75.97,240.12 L76.47,240.07 L76.96,240.03 L77.46,239.98 L77.96,239.93 L78.46,239.88 L78.96,239.83 L79.46,239.78 L79.96,239.73 L80.46,239.67 L80.96,239.62 L81.46,239.56 L81.96,239.50 L82.46,239.44 L82.95,239.38 L83.45,239.32 L83.95,239.26 L84.45,239.19 L84.95,239.13 L85.45,239.06 L85.95,238.99 L86.45,238.92 L86.95,238.85 L87.45,238.78 L87.95,238.70 L88.45,238.63 L88.95,238.55 L89.44,238.48 L89.94,238.40 L90.44,238.32 L90.94,238.24 L91.44,238.16 L91.94,238.07 L92.44,237.99 L92.94,237.91 L93.44,237.82 L93.94,237.73 L94.44,237.64 L94.94,237.55 L95.44,237.46 L95.93,237.37 L96.43,237.28 L96.93,237.18 L97.43,237.09 L97.93,236.99 L98.43,236.89 L98.93,236.80 L99.43,236.70 L99.93,236.60 L100.43,236.49 L100.93,236.39 L101.43,236.29 L101.92,236.18 L102.42,236.08 L102.92,235.97 L103.42,235.86 L103.92,235.75 L104.42,235.64 L104.92,235.53 L105.42,235.42 L105.92,235.31 L106.42,235.19 L106.92,235.08 L107.42,234.96 L107.92,234.84 L108.41,234.73 L108.91,234.61 L109.41,234.49 L109.91,234.37 L110.41,234.25 L110.91,234.12 L111.41,234.00 L111.91,233.87 L112.41,233.75 L112.91,233.62 L113.41,233.49 L113.91,233.37 L114.41,233.24 L114.90,233.11 L115.40,232.98 L115.90,232.84 L116.40,232.71 L116.90,232.58 L117.40,232.44 L117.90,232.31 L118.40,232.17 L118.90,232.03 L119.40,231.89 L119.90,231.76 L120.40,231.62 L120.89,231.48 L121.39,231.33 L121.89,231.19 L122.39,231.05 L122.89,230.91 L123.39,230.76 L123.89,230.61 L124.39,230.47 L124.89,230.32 L125.39,230.17 L125.89,230.03 L126.39,229.88 L126.89,229.73 L127.38,229.57 L127.88,229.42 L128.38,229.27 L128.88,229.12 L129.38,228.96 L129.88,228.81 L130.38,228.65 L130.88,228.50 L131.38,228.34 L131.88,228.18 L132.38,228.03 L132.88,227.87 L133.38,227.71 L133.87,227.55 L134.37,227.39 L134.87,227.22 L135.37,227.06 L135.87,226.90 L136.37,226.73 L136.87,226.57 L137.37,226.41 L137.87,226.24 L138.37,226.07 L138.87,225.91 L139.37,225.74 L139.86,225.57 L140.36,225.40 L140.86,225.23 L141.36,225.06 L141.86,224.89 L142.36,224.72 L142.86,224.55 L143.36,224.38 L143.86,224.21 L144.36,224.03 L144.86,223.86 L145.36,223.68 L145.86,223.51 L146.35,223.33 L146.85,223.16 L147.35,222.98 L147.85,222.80 L148.35,222.63 L148.85,222.45 L149.35,222.27 L149.85,222.09 L150.35,221.91 L150.85,221.73 L151.35,221.55 L151.85,221.37 L152.35,221.19 L152.84,221.00 L153.34,220.82 L153.84,220.64 L154.34,220.45 L154.84,220.27 L155.34,220.08 L155.84,219.90 L156.34,219.71 L156.84,219.52 L157.34,219.33 L157.84,219.14 L158.34,218.95 L158.83,218.76 L159.33,218.57 L159.83,218.38 L160.33,218.19 L160.83,217.99 L161.33,217.80 L161.83,217.60 L162.33,217.41 L162.83,217.21 L163.33,217.01 L163.83,216.81 L164.33,216.61 L164.83,216.41 L165.32,216.21 L165.82,216.01 L166.32,215.80 L166.82,215.60 L167.32,215.39 L167.82,215.18 L168.32,214.98 L168.82,214.77 L169.32,214.56 L169.82,214.35 L170.32,214.13 L170.82,213.92 L171.32,213.70 L171.81,213.49 L172.31,213.27 L172.81,213.05 L173.31,212.83 L173.81,212.61 L174.31,212.39 L174.81,212.16 L175.31,211.94 L175.81,211.71 L176.31,211.48 L176.81,211.26 L177.31,211.03 L177.80,210.79 L178.30,210.56 L178.80,210.33 L179.30,210.09 L179.80,209.85 L180.30,209.61 L180.80,209.37 L181.30,209.13 L181.80,208.89 L182.30,208.64 L182.80,208.40 L183.30,208.15 L183.80,207.90 L184.29,207.65 L184.79,207.39 L185.29,207.14 L185.79,206.88 L186.29,206.62 L186.79,206.36 L187.29,206.10 L187.79,205.84 L188.29,205.58 L188.79,205.31 L189.29,205.04 L189.79,204.77 L190.28,204.50 L190.78,204.23 L191.28,203.95 L191.78,203.67 L192.28,203.39 L192.78,203.11 L193.28,202.83 L193.78,202.54 L194.28,202.26 L194.78,201.97 L195.28,201.68 L195.78,201.39 L196.28,201.09 L196.77,200.79 L197.27,200.50 L197.77,200.20 L198.27,199.89 L198.77,199.59 L199.27,199.28 L199.77,198.97 L200.27,198.66 L200.77,198.35 L201.27,198.04 L201.77,197.72 L202.27,197.41 L202.77,197.09 L203.26,196.77 L203.76,196.44 L204.26,196.12 L204.76,195.79 L205.26,195.47 L205.76,195.14 L206.26,194.80 L206.76,194.47 L207.26,194.14 L207.76,193.80 L208.26,193.47 L208.76,193.13 L209.25,192.79 L209.75,192.44 L210.25,192.10 L210.75,191.76 L211.25,191.41 L211.75,191.06 L212.25,190.71 L212.75,190.36 L213.25,190.01 L213.75,189.66 L214.25,189.30 L214.75,188.95 L215.25,188.59 L215.74,188.23 L216.24,187.87 L216.74,187.51 L217.24,187.15 L217.74,186.78 L218.24,186.42 L218.74,186.05 L219.24,185.69 L219.74,185.32 L220.24,184.95 L220.74,184.58 L221.24,184.21 L221.74,183.83 L222.23,183.46 L222.73,183.09 L223.23,182.71 L223.73,182.33 L224.23,181.96 L224.73,181.58 L225.23,181.20 L225.73,180.82 L226.23,180.44 L226.73,180.06 L227.23,179.67 L227.73,179.29 L228.22,178.90 L228.72,178.52 L229.22,178.13 L229.72,177.74 L230.22,177.36 L230.72,176.97 L231.22,176.58 L231.72,176.19 L232.22,175.80 L232.72,175.41 L233.22,175.02 L233.72,174.62 L234.22,174.23 L234.71,173.84 L235.21,173.44 L235.71,173.05 L236.21,172.65 L236.71,172.26 L237.21,171.86 L237.71,171.46 L238.21,171.06 L238.71,170.66 L239.21,170.25 L239.71,169.84 L240.21,169.43 L240.71,169.01 L241.20,168.58 L241.70,168.16 L242.20,167.72 L242.70,167.28 L243.20,166.84 L243.70,166.39 L244.20,165.92 L244.70,165.46 L245.20,164.98 L245.70,164.49 L246.20,164.00 L246.70,163.50 L247.19,162.98 L247.69,162.46 L248.19,161.92 L248.69,161.37 L249.19,160.81 L249.69,160.24 L250.19,159.66 L250.69,159.06 L251.19,158.45 L251.69,157.82 L252.19,157.18 L252.69,156.53 L253.19,155.86 L253.68,155.17 L254.18,154.47 L254.68,153.76 L255.18,153.04 L255.68,152.30 L256.18,151.55 L256.68,150.78 L257.18,150.00 L257.68,149.21 L258.18,148.41 L258.68,147.60 L259.18,146.77 L259.68,145.93 L260.17,145.08 L260.67,144.22 L261.17,143.35 L261.67,142.47 L262.17,141.58 L262.67,140.68 L263.17,139.76 L263.67,138.84 L264.17,137.91 L264.67,136.97 L265.17,136.02 L265.67,135.06 L266.16,134.09 L266.66,133.11 L267.16,132.12 L267.66,131.12 L268.16,130.10 L268.66,129.08 L269.16,128.05 L269.66,127.00 L270.16,125.95 L270.66,124.88 L271.16,123.81 L271.66,122.72 L272.16,121.62 L272.65,120.51 L273.15,119.38 L273.65,118.25 L274.15,117.10 L274.65,115.94 L275.15,114.77 L275.65,113.58 L276.15,112.39 L276.65,111.18 L277.15,109.96 L277.65,108.72 L278.15,107.47 L278.65,106.21 L279.14,104.94 L279.64,103.65 L280.14,102.35 L280.64,101.03 L281.14,99.71 L281.64,98.36 L282.14,97.01 L282.64,95.64 L283.14,94.25 L283.64,92.85 L284.14,91.44 L284.64,90.01 L285.13,88.57 L285.63,87.11 L286.13,85.63 L286.63,84.14 L287.13,82.64 L287.63,81.12 L288.13,79.58 L288.63,78.02 L289.13,76.45 L289.63,74.86 L290.13,73.25 L290.63,71.62 L291.13,69.97 L291.62,68.31 L292.12,66.62 L292.62,64.92 L293.12,63.19 L293.62,61.45 L294.12,59.68 L294.62,57.89 L295.12,56.09 L295.62,54.26 L296.12,52.42 L296.62,50.56 L297.12,48.70 L297.62,46.82 L298.11,44.94 L298.61,43.05 L299.11,41.16 L299.61,39.27 L300.11,37.38 L300.61,35.49 L301.11,33.61 L301.61,31.74 L302.11,29.88 L302.61,28.04 L303.11,26.21 L303.61,24.40 L304.10,22.60 L304.60,20.83 L305.10,19.09 L305.60,17.37 L306.10,15.68 L306.60,14.02 L307.10,12.50 L308.60,26.90 L310.80,34.50 L314.50,37.80 L317.80,41.10 L320.00,45.40 L320.40,56.40" fill="none" stroke="#ff00ff" stroke-width="2.10" stroke-linejoin="round"/>
<path d="M54.50,240.70 L55.00,240.59 L55.50,240.61 L56.00,240.63 L56.50,240.65 L57.00,240.67 L57.50,240.68 L58.00,240.70 L58.49,240.71 L58.99,240.72 L59.49,240.73 L59.99,240.74 L60.49,240.75 L60.99,240.76 L61.49,240.76 L61.99,240.77 L62.49,240.77 L62.99,240.77 L63.49,240.77 L63.99,240.77 L64.49,240.76 L64.99,240.76 L65.48,240.75 L65.98,240.75 L66.48,240.74 L66.98,240.73 L67.48,240.72 L67.98,240.70 L68.48,240.69 L68.98,240.68 L69.48,240.66 L69.98,240.64 L70.48,240.62 L70.98,240.60 L71.48,240.58 L71.98,240.56 L72.47,240.53 L72.97,240.51 L73.47,240.48 L73.97,240.45 L74.47,240.42 L74.97,240.39 L75.47,240.36 L75.97,240.33 L76.47,240.29 L76.97,240.26 L77.47,240.22 L77.97,240.18 L78.47,240.14 L78.97,240.10 L79.46,240.06 L79.96,240.01 L80.46,239.97 L80.96,239.92 L81.46,239.88 L81.96,239.83 L82.46,239.78 L82.96,239.73 L83.46,239.68 L83.96,239.62 L84.46,239.57 L84.96,239.51 L85.46,239.46 L85.96,239.40 L86.45,239.34 L86.95,239.28 L87.45,239.22 L87.95,239.16 L88.45,239.09 L88.95,239.03 L89.45,238.96 L89.95,238.90 L90.45,238.83 L90.95,238.76 L91.45,238.69 L91.95,238.62 L92.45,238.54 L92.95,238.47 L93.45,238.39 L93.94,238.32 L94.44,238.24 L94.94,238.16 L95.44,238.08 L95.94,238.00 L96.44,237.92 L96.94,237.84 L97.44,237.75 L97.94,237.67 L98.44,237.58 L98.94,237.50 L99.44,237.41 L99.94,237.32 L100.44,237.23 L100.93,237.14 L101.43,237.04 L101.93,236.95 L102.43,236.86 L102.93,236.76 L103.43,236.66 L103.93,236.56 L104.43,236.47 L104.93,236.37 L105.43,236.27 L105.93,236.16 L106.43,236.06 L106.93,235.96 L107.43,235.85 L107.92,235.75 L108.42,235.64 L108.92,235.53 L109.42,235.42 L109.92,235.31 L110.42,235.20 L110.92,235.09 L111.42,234.97 L111.92,234.86 L112.42,234.75 L112.92,234.63 L113.42,234.51 L113.92,234.40 L114.42,234.28 L114.91,234.16 L115.41,234.04 L115.91,233.91 L116.41,233.79 L116.91,233.67 L117.41,233.54 L117.91,233.42 L118.41,233.29 L118.91,233.16 L119.41,233.04 L119.91,232.91 L120.41,232.78 L120.91,232.65 L121.41,232.51 L121.90,232.38 L122.40,232.25 L122.90,232.11 L123.40,231.98 L123.90,231.84 L124.40,231.70 L124.90,231.57 L125.40,231.43 L125.90,231.29 L126.40,231.15 L126.90,231.00 L127.40,230.86 L127.90,230.72 L128.40,230.57 L128.90,230.43 L129.39,230.28 L129.89,230.14 L130.39,229.99 L130.89,229.84 L131.39,229.69 L131.89,229.54 L132.39,229.39 L132.89,229.24 L133.39,229.09 L133.89,228.93 L134.39,228.78 L134.89,228.63 L135.39,228.47 L135.89,228.31 L136.38,228.16 L136.88,228.00 L137.38,227.84 L137.88,227.68 L138.38,227.52 L138.88,227.36 L139.38,227.20 L139.88,227.03 L140.38,226.87 L140.88,226.71 L141.38,226.54 L141.88,226.38 L142.38,226.21 L142.88,226.04 L143.37,225.87 L143.87,225.71 L144.37,225.54 L144.87,225.37 L145.37,225.20 L145.87,225.02 L146.37,224.85 L146.87,224.68 L147.37,224.51 L147.87,224.33 L148.37,224.16 L148.87,223.98 L149.37,223.80 L149.87,223.63 L150.36,223.45 L150.86,223.27 L151.36,223.09 L151.86,222.91 L152.36,222.73 L152.86,222.55 L153.36,222.37 L153.86,222.19 L154.36,222.00 L154.86,221.82 L155.36,221.64 L155.86,221.45 L156.36,221.27 L156.86,221.08 L157.35,220.89 L157.85,220.71 L158.35,220.52 L158.85,220.33 L159.35,220.14 L159.85,219.95 L160.35,219.76 L160.85,219.57 L161.35,219.38 L161.85,219.19 L162.35,218.99 L162.85,218.80 L163.35,218.61 L163.85,218.41 L164.35,218.22 L164.84,218.02 L165.34,217.82 L165.84,217.63 L166.34,217.43 L166.84,217.23 L167.34,217.03 L167.84,216.84 L168.34,216.64 L168.84,216.44 L169.34,216.24 L169.84,216.03 L170.34,215.83 L170.84,215.63 L171.34,215.43 L171.83,215.23 L172.33,215.02 L172.83,214.82 L173.33,214.61 L173.83,214.41 L174.33,214.20 L174.83,214.00 L175.33,213.79 L175.83,213.58 L176.33,213.38 L176.83,213.17 L177.33,212.96 L177.83,212.75 L178.33,212.54 L178.82,212.33 L179.32,212.12 L179.82,211.91 L180.32,211.70 L180.82,211.49 L181.32,211.28 L181.82,211.06 L182.32,210.85 L182.82,210.64 L183.32,210.42 L183.82,210.21 L184.32,210.00 L184.82,209.78 L185.32,209.57 L185.81,209.35 L186.31,209.13 L186.81,208.92 L187.31,208.70 L187.81,208.48 L188.31,208.27 L188.81,208.05 L189.31,207.83 L189.81,207.61 L190.31,207.39 L190.81,207.17 L191.31,206.95 L191.81,206.73 L192.31,206.51 L192.80,206.29 L193.30,206.07 L193.80,205.85 L194.30,205.63 L194.80,205.41 L195.30,205.18 L195.80,204.96 L196.30,204.74 L196.80,204.51 L197.30,204.29 L197.80,204.07 L198.30,203.84 L198.80,203.62 L199.30,203.39 L199.80,203.17 L200.29,202.94 L200.79,202.72 L201.29,202.49 L201.79,202.26 L202.29,202.04 L202.79,201.81 L203.29,201.58 L203.79,201.34 L204.29,201.10 L204.79,200.85 L205.29,200.59 L205.79,200.32 L206.29,200.05 L206.79,199.75 L207.28,199.45 L207.78,199.12 L208.28,198.78 L208.78,198.42 L209.28,198.05 L209.78,197.65 L210.28,197.22 L210.78,196.77 L211.28,196.30 L211.78,195.80 L212.28,195.27 L212.78,194.71 L213.28,194.12 L213.78,193.50 L214.27,192.84 L214.77,192.15 L215.27,191.42 L215.77,190.65 L216.27,189.85 L216.77,189.00 L217.27,188.10 L217.77,187.17 L218.27,186.19 L218.77,185.16 L219.27,184.08 L219.77,182.96 L220.27,181.78 L220.77,180.55 L221.26,179.26 L221.76,177.93 L222.26,176.54 L222.76,175.12 L223.26,173.65 L223.76,172.15 L224.26,170.62 L224.76,169.07 L225.26,167.49 L225.76,165.90 L226.26,164.30 L226.76,162.69 L227.26,161.08 L227.76,159.47 L228.25,157.87 L228.75,156.28 L229.25,154.69 L229.75,153.11 L230.25,151.54 L230.75,149.98 L231.25,148.44 L231.75,146.91 L232.25,145.39 L232.75,143.90 L233.25,142.42 L233.75,140.97 L234.25,139.53 L234.75,138.12 L235.25,136.74 L235.74,135.38 L236.24,134.05 L236.74,132.74 L237.24,131.47 L237.74,130.23 L238.24,129.01 L238.74,127.82 L239.24,126.66 L239.74,125.51 L240.24,124.39 L240.74,123.28 L241.24,122.18 L241.74,121.10 L242.24,120.03 L242.73,118.97 L243.23,117.92 L243.73,116.87 L244.23,115.82 L244.73,114.77 L245.23,113.73 L245.73,112.67 L246.23,111.62 L246.73,110.56 L247.23,109.49 L247.73,108.43 L248.23,107.36 L248.73,106.29 L249.23,105.21 L249.72,104.14 L250.22,103.06 L250.72,101.99 L251.22,100.91 L251.72,99.84 L252.22,98.77 L252.72,97.70 L253.22,96.63 L253.72,95.56 L254.22,94.50 L254.72,93.44 L255.22,92.38 L255.72,91.33 L256.22,90.28 L256.71,89.24 L257.21,88.21 L257.71,87.18 L258.21,86.16 L258.71,85.15 L259.21,84.15 L259.71,83.17 L260.21,82.20 L260.71,81.26 L261.21,80.35 L261.71,79.47 L262.21,78.62 L262.71,77.81 L263.21,77.04 L263.70,76.31 L264.20,75.64 L264.70,75.01 L265.20,74.44 L265.70,73.92 L266.20,73.47 L266.70,73.09 L267.20,73.30 L269.70,80.50 L273.00,87.10 L276.30,94.20" fill="none" stroke="#f8883a" stroke-width="2.30" stroke-linejoin="round" stroke-dasharray="1.4 5.6" stroke-linecap="round"/>
<g font-family="Liberation Serif" font-weight="bold" font-size="12.4" fill="#000" stroke="#000" stroke-width="0.5">
<text transform="translate(48,245.35) scale(0.948,1)" text-anchor="end" font-size="13.50">0</text>
<text transform="translate(48,216.10) scale(0.948,1)" text-anchor="end" font-size="13.50">4000</text>
<text transform="translate(48,186.85) scale(0.948,1)" text-anchor="end" font-size="13.50">8000</text>
<text transform="translate(48,157.60) scale(0.948,1)" text-anchor="end" font-size="13.50">12000</text>
<text transform="translate(48,128.35) scale(0.948,1)" text-anchor="end" font-size="13.50">16000</text>
<text transform="translate(48,99.10) scale(0.948,1)" text-anchor="end" font-size="13.50">20000</text>
<text transform="translate(48,69.85) scale(0.948,1)" text-anchor="end" font-size="13.50">24000</text>
<text transform="translate(48,40.60) scale(0.948,1)" text-anchor="end" font-size="13.50">28000</text>
<text transform="translate(48,11.35) scale(0.948,1)" text-anchor="end" font-size="13.50">32000</text>
<text transform="translate(55.20,258.80) scale(0.926,1)" text-anchor="middle" font-size="13.50">0.0</text>
<text transform="translate(110.98,258.80) scale(0.926,1)" text-anchor="middle" font-size="13.50">0.1</text>
<text transform="translate(166.76,258.80) scale(0.926,1)" text-anchor="middle" font-size="13.50">0.2</text>
<text transform="translate(222.54,258.80) scale(0.926,1)" text-anchor="middle" font-size="13.50">0.3</text>
<text transform="translate(278.32,258.80) scale(0.926,1)" text-anchor="middle" font-size="13.50">0.4</text>
<text transform="translate(334.10,258.80) scale(0.926,1)" text-anchor="middle" font-size="13.50">0.5</text>
<text transform="translate(194.9,270.3) scale(0.935,1)" text-anchor="middle" font-size="13.8">Strain</text>
<text transform="translate(10.6,118.1) rotate(-90)" text-anchor="middle" font-size="12.7">PE (eV)</text>
</g>
<g font-family="Liberation Serif" font-weight="bold" font-size="11.5" fill="#000" stroke="#000" stroke-width="0.5">
<path d="M64,26.15H90" stroke="#111" stroke-width="2.10"/>
<text x="92.5" y="30.10">A<tspan dy="1.6">_</tspan><tspan dy="-1.6">DWBNNT</tspan></text>
<path d="M65,41.10H90" stroke="#ff1010" stroke-width="2.30" stroke-dasharray="1.4 5.5" stroke-linecap="round"/>
<text x="92.5" y="44.30">Z<tspan dy="1.6">_</tspan><tspan dy="-1.6">DWBNNT</tspan></text>
<path d="M64,55.70H90" stroke="#2020ff" stroke-width="2.10"/>
<text x="92.5" y="59.30">A<tspan dy="1.6">_</tspan><tspan dy="-1.6">TWBNNT</tspan></text>
<path d="M65,70.50H90" stroke="#109a10" stroke-width="2.30" stroke-dasharray="1.4 5.5" stroke-linecap="round"/>
<text x="92.5" y="73.70">Z<tspan dy="1.6">_</tspan><tspan dy="-1.6">TWBNNT</tspan></text>
<path d="M64,85.10H90" stroke="#ff00ff" stroke-width="2.10"/>
<text x="92.5" y="89.40">A<tspan dy="1.6">_</tspan><tspan dy="-1.6">FWBNNT</tspan></text>
<path d="M65,99.80H90" stroke="#f8883a" stroke-width="2.30" stroke-dasharray="1.4 5.5" stroke-linecap="round"/>
<text x="92.5" y="103.60">Z<tspan dy="1.6">_</tspan><tspan dy="-1.6">FWBNNT</tspan></text>
</g>
</g>
</svg>
</div></body></html>
